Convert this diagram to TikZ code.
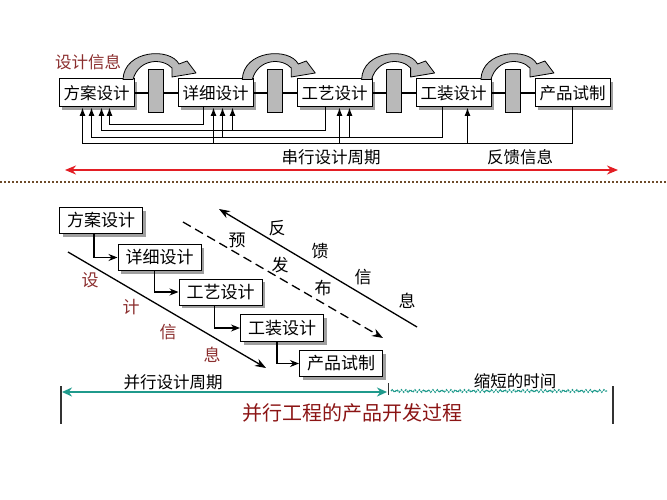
\documentclass[tikz,border=0pt]{standalone}
\usepackage{fontspec}
\newfontfamily\cjk{Noto Sans CJK SC}
\usetikzlibrary{arrows.meta,shadows,decorations.pathmorphing}
\definecolor{dred}{HTML}{8B2E2E}
\definecolor{tred}{HTML}{8B1414}
\definecolor{tealc}{HTML}{1F9A8C}
\definecolor{arrred}{HTML}{E31E24}
\definecolor{dotbrown}{HTML}{6E4B2A}
\begin{document}
\begin{tikzpicture}[x=1pt,y=-1pt,
  box/.style={draw=black, line width=1pt, fill=white, minimum width=75pt, minimum height=28pt, inner sep=0pt,
    font=\cjk\fontsize{16.5}{18}\selectfont,
    drop shadow={shadow xshift=3pt, shadow yshift=-3pt, fill=gray!75, opacity=1}},
  sbox/.style={box, minimum width=83pt, minimum height=26pt, font=\cjk\fontsize{17}{18}\selectfont},
  bar/.style={draw=black, line width=0.8pt, fill=gray!55, minimum width=15pt, minimum height=43pt, inner sep=0pt},
  fb/.style={line width=1.1pt, -{Latex[length=8.5pt,width=6pt]}},
  lbl/.style={font=\cjk\fontsize{16.5}{18}\selectfont, inner sep=0pt},
  slbl/.style={font=\cjk\fontsize{17}{18}\selectfont, inner sep=0pt},
  rlbl/.style={lbl, text=dred},
  rslbl/.style={slbl, text=dred},
  diag/.style={line width=1.3pt, -{Stealth[length=11pt,width=8pt]}},
  bendarrow/.style={fill=gray!55, draw=black, line width=0.8pt, line join=round}
]
\useasboundingbox (0,0) rectangle (667,500);

% ---------- top: serial design ----------
\node[box] (b1) at (96.5,93) {方案设计};
\node[box] (b2) at (215.5,93) {详细设计};
\node[box] (b3) at (334.5,93) {工艺设计};
\node[box] (b4) at (453.5,93) {工装设计};
\node[box] (b5) at (572.5,93) {产品试制};

\draw[line width=1.1pt] (b1.east) -- (b2.west);
\draw[line width=1.1pt] (b2.east) -- (b3.west);
\draw[line width=1.1pt] (b3.east) -- (b4.west);
\draw[line width=1.1pt] (b4.east) -- (b5.west);

\node[bar] (g1) at (155.5,90.5) {};
\node[bar] (g2) at (275,90.5) {};
\node[bar] (g3) at (394,90.5) {};
\node[bar] (g4) at (513,90.5) {};

\foreach \k in {0,1,2,3}{
  \begin{scope}[xshift=\k*119.3pt]
    \filldraw[bendarrow] (123,79.5) .. controls (124,50) and (170,47) .. (179,64)
      -- (187,61) -- (196,73) -- (172,77) -- (172,68)
      .. controls (163,58) and (139,58) .. (133,79.5) -- cycle;
  \end{scope}
}

% feedback lines
\draw[fb] ([xshift=26pt]b2.south west) -- ++(0,17) -| ([xshift=51pt]b1.south west);
\draw[fb] ([xshift=29pt]b3.south west) -- ++(0,23) -| ([xshift=43pt]b1.south west);
\draw[fb] ([xshift=55pt,yshift=-23pt]b2.south west) -- ([xshift=55pt]b2.south west);
\draw[fb] ([xshift=27pt]b4.south west) -- ++(0,30) -| ([xshift=33pt]b1.south west);
\draw[fb] ([xshift=45pt,yshift=-30pt]b2.south west) -- ([xshift=45pt]b2.south west);
\draw[fb] ([xshift=53pt,yshift=-30pt]b3.south west) -- ([xshift=53pt]b3.south west);
\draw[fb] (b5.south) -- ++(0,36) -| ([xshift=24pt]b1.south west);
\draw[fb] ([xshift=36pt,yshift=-36pt]b2.south west) -- ([xshift=36pt]b2.south west);
\draw[fb] ([xshift=43pt,yshift=-36pt]b3.south west) -- ([xshift=43pt]b3.south west);
\draw[fb] ([xshift=52pt,yshift=-36pt]b4.south west) -- ([xshift=52pt]b4.south west);

\node[rlbl] (sjxx) at (88,62) {设计信息};
\node[lbl] (cxzq) at (331,157) {串行设计周期};
\node[lbl] (fkxx) at (520,157) {反馈信息};

\coordinate (rl) at (65,170);
\coordinate (rr) at (618,170);
\draw[arrred, line width=2pt, {Stealth[length=11pt,width=9pt]}-{Stealth[length=11pt,width=9pt]}] (rl) -- (rr);

\coordinate (dl) at (0,182);
\coordinate (dr) at (667,182);
\draw[dotbrown, line width=1.6pt, dash pattern=on 1.6pt off 2.4pt] (dl) -- (dr);

% ---------- bottom: concurrent design ----------
\node[sbox] (c1) at (101,220.5) {方案设计};
\node[sbox] (c2) at (159.5,257.5) {详细设计};
\node[sbox] (c3) at (220.5,292) {工艺设计};
\node[sbox, minimum height=27pt] (c4) at (282,328) {工装设计};
\node[sbox] (c5) at (341,363.5) {产品试制};

\draw[fb, -{Stealth[length=9pt,width=7pt]}] ([xshift=35pt]c1.south west) |- (c2.west);
\draw[fb, -{Stealth[length=9pt,width=7pt]}] ([xshift=37pt]c2.south west) |- (c3.west);
\draw[fb, -{Stealth[length=9pt,width=7pt]}] ([xshift=36pt]c3.south west) |- (c4.west);
\draw[fb, -{Stealth[length=9pt,width=7pt]}] ([xshift=37pt]c4.south west) |- (c5.west);

% design info arrow
\coordinate (ds) at (68,252);
\coordinate (de) at (266,368);
\draw[diag] (ds) -- (de);
\node[rslbl] (t1) at (90,280) {设};
\node[rslbl] (t2) at (131,307) {计};
\node[rslbl] (t3) at (168,332) {信};
\node[rslbl] (t4) at (212,355) {息};

% pre-release dashed arrow
\coordinate (ps) at (183,222);
\coordinate (pe) at (383,338);
\draw[diag, dash pattern=on 9pt off 5pt] (ps) -- (pe);
\node[slbl] (p1) at (237,240) {预};
\node[slbl] (p2) at (280,265) {发};
\node[slbl] (p3) at (323,288) {布};

% feedback arrow
\coordinate (fs) at (417,327);
\coordinate (fe) at (219,209);
\draw[diag] (fs) -- (fe);
\node[slbl] (f1) at (277,228) {反};
\node[slbl] (f2) at (320,251) {馈};
\node[slbl] (f3) at (363,277) {信};
\node[slbl] (f4) at (407,301) {息};

% timeline
\coordinate (lt) at (61,386);
\coordinate (lb) at (61,424);
\coordinate (rt) at (613,386);
\coordinate (rb) at (613,424);
\coordinate (mt) at (388,383);
\coordinate (mb) at (388,395);
\draw[line width=1.2pt, black!80] (lt) -- (lb);
\draw[line width=1.2pt, black!80] (rt) -- (rb);
\draw[line width=1pt, black!80] (mt) -- (mb);

\coordinate (al) at (62,392);
\coordinate (ar) at (387,392);
\draw[tealc, line width=2pt, {Stealth[open,length=10pt,width=9pt]}-{Stealth[open,length=10pt,width=9pt]}] (al) -- (ar);

\coordinate (wl) at (391,391);
\coordinate (wr) at (607,391);
\draw[tealc, line width=1.2pt, decorate, decoration={snake, amplitude=1.3pt, segment length=4.5pt}, dash pattern=on 2pt off 1pt] (wl) -- (wr);

\node[lbl] (bxzq) at (173,382) {并行设计周期};
\node[lbl] (sdsj) at (515,381) {缩短的时间};
\node[lbl, text=tred, font=\cjk\fontsize{20}{24}\selectfont] (title) at (352,413) {并行工程的产品开发过程};
\end{tikzpicture}
\end{document}
